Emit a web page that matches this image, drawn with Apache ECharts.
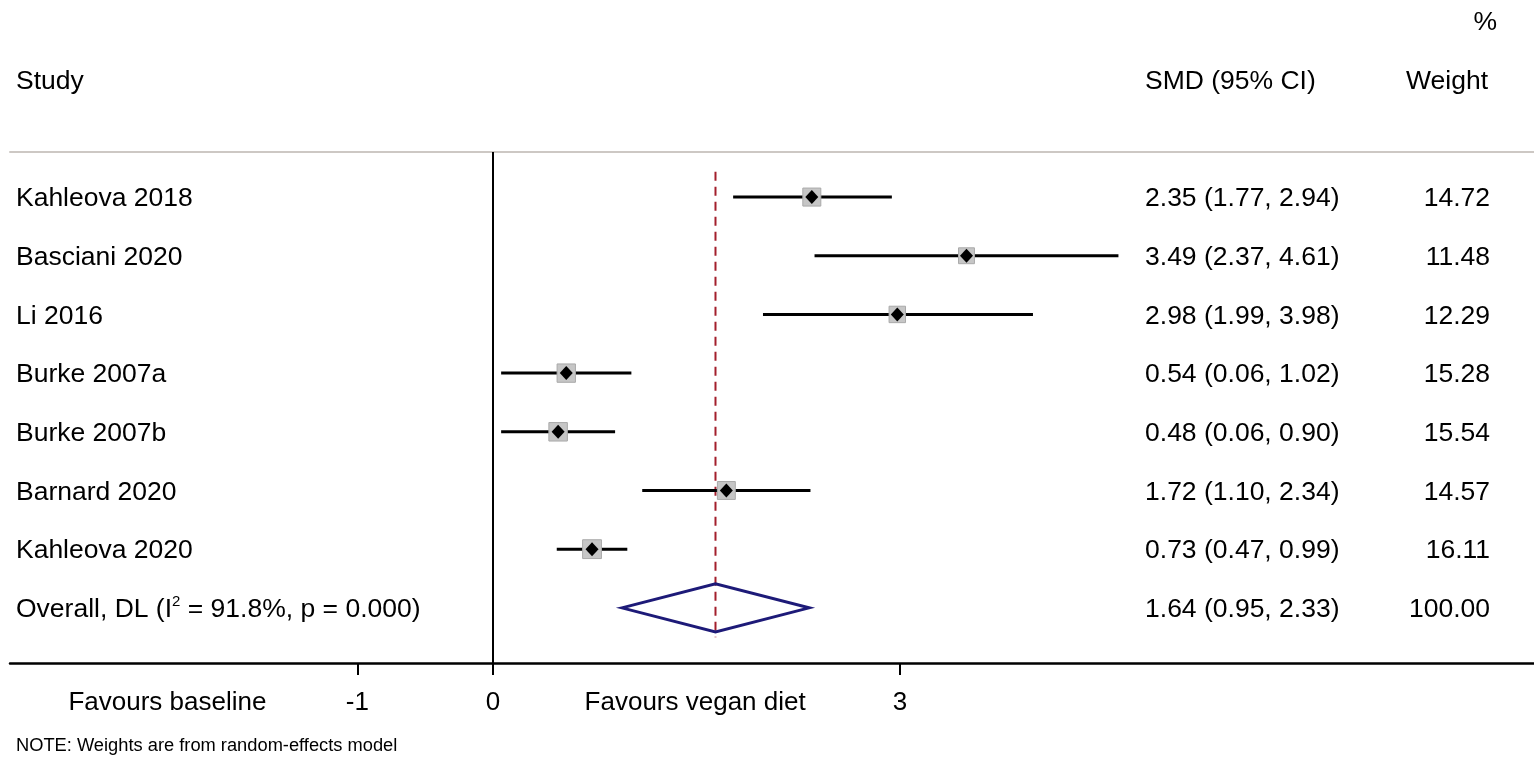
<!DOCTYPE html>
<html>
<head>
<meta charset="utf-8">
<script src="https://cdn.jsdelivr.net/npm/echarts@6/dist/echarts.min.js"></script>
<style>
html,body{margin:0;padding:0;background:#fff;}
#chart{width:1534px;height:763px;}
</style>
</head>
<body>
<div id="chart"></div>
<script>
// ---- data ----
const studies = ['Kahleova 2018','Basciani 2020','Li 2016','Burke 2007a','Burke 2007b','Barnard 2020','Kahleova 2020'];
const smd     = [2.35, 3.49, 2.98, 0.54, 0.48, 1.72, 0.73];
const lower   = [1.77, 2.37, 1.99, 0.06, 0.06, 1.10, 0.47];
const upper   = [2.94, 4.61, 3.98, 1.02, 0.90, 2.34, 0.99];
const weights = [14.72, 11.48, 12.29, 15.28, 15.54, 14.57, 16.11];
const overallName = 'Overall, DL';
const overallI2 = '91.8%';
const overallP = '0.000';
const overallEst = [1.64];
const overallLower = [0.95];
const overallUpper = [2.33];
const overallWeight = [100.00];
const tickValues = [-1, 0, 3];
const tickLabels = ['-1', '0', '3'];
const favourLabels = ['Favours baseline', 'Favours vegan diet'];
const favourPos = [-2.4, 1.49];

// ---- layout ----
const FONT = 'Liberation Sans, Arial, Helvetica, sans-serif';
const FS = 26.5;
const XMIN = -3.56, XMAX = 7.673;
const COL_STUDY = -3.516, COL_SMD = 4.806, COL_W = 7.349;
const SQ = 18 / Math.sqrt(14.72);
const TEXT_DY = 2;
const n = studies.length;
const overallRow = n + 1;

const chart = echarts.init(document.getElementById('chart'), null, {renderer: 'canvas'});

const studyData = studies.map((s, i) => [i + 1, smd[i], lower[i], upper[i], weights[i]]);
const overallData = [[overallRow, overallEst[0], overallLower[0], overallUpper[0]]];

const fmt2 = v => v.toFixed(2);
const rows = [];
studies.forEach((s, i) => {
  rows.push({row: i + 1, name: s, ci: fmt2(smd[i]) + ' (' + fmt2(lower[i]) + ', ' + fmt2(upper[i]) + ')', w: fmt2(weights[i]), overall: false});
});
rows.push({row: overallRow, name: overallName,
  ci: fmt2(overallEst[0]) + ' (' + fmt2(overallLower[0]) + ', ' + fmt2(overallUpper[0]) + ')', w: fmt2(overallWeight[0]), overall: true});

const labelMap = {};
tickValues.forEach((v, i) => labelMap[v.toFixed(3)] = tickLabels[i]);
favourPos.forEach((v, i) => labelMap[v.toFixed(3)] = favourLabels[i]);

const textFont = FS + 'px ' + FONT;

const option = {
  animation: false,
  backgroundColor: '#fff',
  grid: {left: 10, right: 0, top: 152, bottom: 100, containLabel: false},
  xAxis: [{
    type: 'value', min: XMIN, max: XMAX, position: 'bottom',
    splitLine: {show: false},
    axisLine: {show: true, onZero: false, lineStyle: {color: '#000', width: 2.5}},
    axisTick: {show: true, customValues: tickValues, length: 12, inside: false, lineStyle: {color: '#000', width: 2}},
    axisLabel: {
      show: true, customValues: tickValues.concat(favourPos), margin: 27,
      fontFamily: FONT, fontSize: 26, color: '#000',
      formatter: v => labelMap[Number(v).toFixed(3)] || ''
    }
  }, {
    type: 'value', min: XMIN, max: XMAX, position: 'top',
    splitLine: {show: false},
    axisLine: {show: true, onZero: false, lineStyle: {color: '#cdc8c4', width: 2}},
    axisTick: {show: false}, axisLabel: {show: false}
  }],
  yAxis: {
    type: 'value', min: 0.232, max: 8.94, inverse: true, show: false
  },
  graphic: [
    {type: 'text', left: 16, top: 68, style: {text: 'Study', font: textFont, fill: '#000'}},
    {type: 'text', left: 1145, top: 68, style: {text: 'SMD (95% CI)', font: textFont, fill: '#000'}},
    {type: 'text', right: 46, top: 68, style: {text: 'Weight', font: textFont, fill: '#000'}},
    {type: 'text', right: 37, top: 9, style: {text: '%', font: textFont, fill: '#000'}},
    {type: 'text', left: 16, top: 737, style: {text: 'NOTE: Weights are from random-effects model', font: '18.3px ' + FONT, fill: '#000'}}
  ],
  series: [
    {
      // pooled estimate reference line + null line (x = 0)
      type: 'line', silent: true, symbol: 'none',
      data: [[overallEst[0], 1 - 0.43], [overallEst[0], overallRow + 0.5]],
      lineStyle: {color: '#a31f2c', width: 2, type: [9, 6]},
      markLine: {
        silent: true, symbol: ['none', 'none'], label: {show: false},
        lineStyle: {color: '#000', width: 2, type: 'solid'},
        data: [{xAxis: 0}]
      },
      z: 2
    },
    {
      type: 'custom', silent: true,
      data: studyData,
      encode: {x: [1, 2, 3], y: 0},
      renderItem: (params, api) => {
        const y = api.value(0);
        const lo = api.coord([api.value(2), y]);
        const hi = api.coord([api.value(3), y]);
        const c = api.coord([api.value(1), y]);
        const s = SQ * Math.sqrt(api.value(4));
        return {type: 'group', children: [
          {type: 'line', shape: {x1: lo[0], y1: lo[1], x2: hi[0], y2: hi[1]}, style: {stroke: '#000', lineWidth: 3}},
          {type: 'rect', shape: {x: c[0] - s / 2, y: c[1] - s / 2, width: s, height: s}, style: {fill: '#c6c6c6', stroke: '#a9a9a9', lineWidth: 1}},
          {type: 'polygon', shape: {points: [[c[0], c[1] - 7], [c[0] + 6.5, c[1]], [c[0], c[1] + 7], [c[0] - 6.5, c[1]]]}, style: {fill: '#000'}}
        ]};
      },
      z: 3
    },
    {
      type: 'custom', silent: true,
      data: overallData,
      encode: {x: [1, 2, 3], y: 0},
      renderItem: (params, api) => {
        const y = api.value(0);
        const l = api.coord([api.value(2), y]);
        const r = api.coord([api.value(3), y]);
        const t = api.coord([api.value(1), y - 0.41]);
        const b = api.coord([api.value(1), y + 0.41]);
        return {type: 'polygon', shape: {points: [l, t, r, b]},
          style: {fill: 'rgba(255,255,255,0)', stroke: '#1d1a78', lineWidth: 3, lineJoin: 'miter'}};
      },
      z: 3
    },
    {
      // text columns: study, SMD (95% CI), weight
      type: 'custom', silent: true,
      data: rows.map((r, i) => [r.row, i]),
      encode: {y: 0},
      renderItem: (params, api) => {
        const row = api.value(0);
        const r = rows[api.value(1)];
        const pS = api.coord([COL_STUDY, row]);
        const pC = api.coord([COL_SMD, row]);
        const pW = api.coord([COL_W, row]);
        const nameStyle = r.overall
          ? {text: '{n|' + r.name + ' (I}{s|2}{n| = ' + overallI2 + ', p = ' + overallP + ')}',
             rich: {n: {font: textFont, fill: '#000', lineHeight: 30},
                    s: {font: '15px ' + FONT, fill: '#000', verticalAlign: 'top', lineHeight: 15}}}
          : {text: r.name, font: textFont};
        return {type: 'group', children: [
          {type: 'text', x: pS[0], y: pS[1] + TEXT_DY, style: Object.assign({fill: '#000', font: textFont, align: 'left', verticalAlign: 'middle'}, nameStyle)},
          {type: 'text', x: pC[0], y: pC[1] + TEXT_DY, style: {text: r.ci, fill: '#000', font: textFont, align: 'left', verticalAlign: 'middle'}},
          {type: 'text', x: pW[0], y: pW[1] + TEXT_DY, style: {text: r.w, fill: '#000', font: textFont, align: 'right', verticalAlign: 'middle'}}
        ]};
      },
      z: 5
    }
  ]
};

chart.setOption(option);
</script>
</body>
</html>
